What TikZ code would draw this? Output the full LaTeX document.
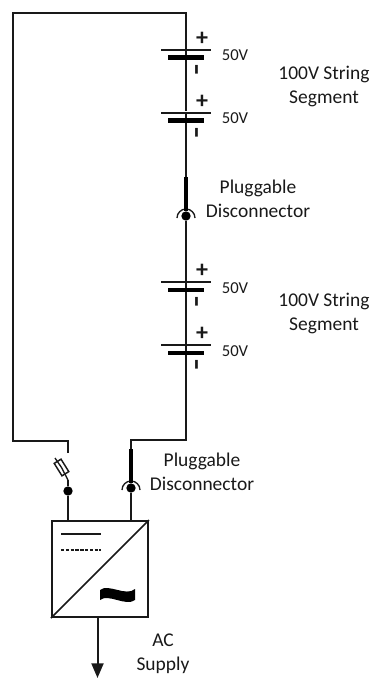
\documentclass[tikz,border=0pt]{standalone}
\usepackage{fontspec}
\setmainfont{Carlito}
\usetikzlibrary{arrows.meta}
\tikzstyle{wire} = [line width=1.5pt, draw=black!90]
\tikzstyle{arrow} = [wire,-{Triangle[length=11pt,width=9pt]}]
\tikzstyle{plus} = [rectangle, fill=black!90, inner sep=0pt, minimum width=38pt, minimum height=1.5pt]
\tikzstyle{minus} = [rectangle, fill=black, inner sep=0pt, minimum width=27pt, minimum height=3.2pt]
\tikzstyle{volt} = [font=\fontsize{12.5}{14}\selectfont, text=black!90]
\tikzstyle{label} = [font=\fontsize{14.6}{18}\selectfont, align=center, text=black!90]
\tikzstyle{sign} = [font=\fontsize{18}{18}\selectfont\bfseries, inner sep=0pt, text=black!90]
\tikzstyle{blade} = [line width=3pt, draw=black]
\tikzstyle{dot} = [circle, fill=black, inner sep=0pt, minimum size=7pt]
\tikzstyle{converter} = [rectangle, draw=black!90, line width=1.5pt, minimum size=72pt, inner sep=0pt]
\tikzstyle{fuse} = [rectangle, draw=black!90, line width=1.1pt, minimum width=11pt, minimum height=6pt, inner sep=0pt, rotate=-58]
\begin{document}
\begin{tikzpicture}[x=0.75pt, y=-0.75pt]
        \useasboundingbox (0,0) rectangle (371,678);

        % Batteries
        \node (p1) [plus] at (186,49.5) {};
        \node (m1) [minus] at (186,57.5) {};
        \node (p2) [plus] at (186,112.5) {};
        \node (m2) [minus] at (186,120.5) {};
        \node (p3) [plus] at (186,282) {};
        \node (m3) [minus] at (186,290) {};
        \node (p4) [plus] at (186,345) {};
        \node (m4) [minus] at (186,353) {};

        % Signs
        \foreach \y/\n in {39/1, 102/2, 271/3, 334/4} {
            \node (s\n) [sign] at (202,\y) {+};
        }
        \foreach \y/\n in {70/1, 133/2, 302/3, 365/4} {
            \node (n\n) [sign, rotate=90, font=\fontsize{28}{28}\selectfont] at (201.5,\y) {-};
        }

        % Voltages
        \node (v1) [volt] at (235,55) {50V};
        \node (v2) [volt] at (235,118) {50V};
        \node (v3) [volt] at (235,288) {50V};
        \node (v4) [volt] at (235,351) {50V};

        % Disconnectors
        \node (d1) [dot] at (186,216) {};
        \node (d2) [dot] at (131,488) {};
        \coordinate (b1) at (186,177);
        \coordinate (b2) at (131,449);
        \draw [wire, line width=1pt] (d1.center) ++(-9,2) arc[start angle=180, end angle=0, radius=6.75pt];
        \draw [wire, line width=1pt] (d2.center) ++(-9,2) arc[start angle=180, end angle=0, radius=6.75pt];

        % Converter
        \node (conv) [converter] at (100,569) {};
        \draw [wire, line width=1.1pt] (conv.south west) -- (conv.north east);
        \coordinate (dc1) at (61,534);
        \coordinate (dc2) at (101,534);
        \coordinate (dc3) at (61,550);
        \coordinate (dc4) at (101,550);
        \draw [wire, line width=1.1pt] (dc1) -- (dc2);
        \draw [wire, line width=1.1pt, dash pattern=on 2.6pt off 1pt] (dc3) -- (dc4);
        \fill [black] (100,590) .. controls (108,583) and (126,597) .. (135,589) -- (135,600) .. controls (126,607) and (108,593) .. (100,600) -- cycle;

        % Fuse
        \node (fuse) [fuse] at (61.5,467.5) {};
        \node (d3) [dot] at (68,491) {};
        \coordinate (f1) at (55,458);
        \coordinate (f2) at (68,480);
        \draw [wire, line width=1pt] (f1) -- (fuse.center) -- (f2);

        % Wires
        \coordinate (t1) at (68,453);
        \coordinate (c1) at (68,441);
        \coordinate (c2) at (13,441);
        \coordinate (c3) at (13,13);
        \coordinate (c4) at (186,13);
        \coordinate (c5) at (186,440);
        \coordinate (c6) at (131,440);
        \draw [wire] (t1) -- (c1) -- (c2) -- (c3) -- (c4) -- (p1.center);
        \draw [wire] (p1) -- (m1);
        \draw [wire] (m1) -- (p2);
        \draw [wire] (p2) -- (m2);
        \draw [wire] (m2) -- (b1);
        \draw [blade] (b1) -- (d1);
        \draw [wire] (d1) -- (p3);
        \draw [wire] (p3) -- (m3);
        \draw [wire] (m3) -- (p4);
        \draw [wire] (p4) -- (m4);
        \draw [wire] (m4) -- (c5) -- (c6) -- (b2);
        \draw [blade] (b2) -- (d2);
        \draw [wire] (d2) -- (conv.north -| d2);
        \draw [wire] (f2) -- (d3);
        \draw [wire] (d3) -- (conv.north -| d3);

        % Output
        \coordinate (out) at (97.5,678);
        \draw [arrow] (conv.south -| out) -- (out);

        % Labels
        \node (str1) [label] at (324,86.5) {100V String\\Segment};
        \node (str2) [label] at (324,313.5) {100V String\\Segment};
        \node (lbl1) [label] at (258,199) {Pluggable\\Disconnector};
        \node (lbl2) [label] at (202,472) {Pluggable\\Disconnector};
        \node (ac) [label] at (163,654) {AC\\Supply};
    \end{tikzpicture}
\end{document}
